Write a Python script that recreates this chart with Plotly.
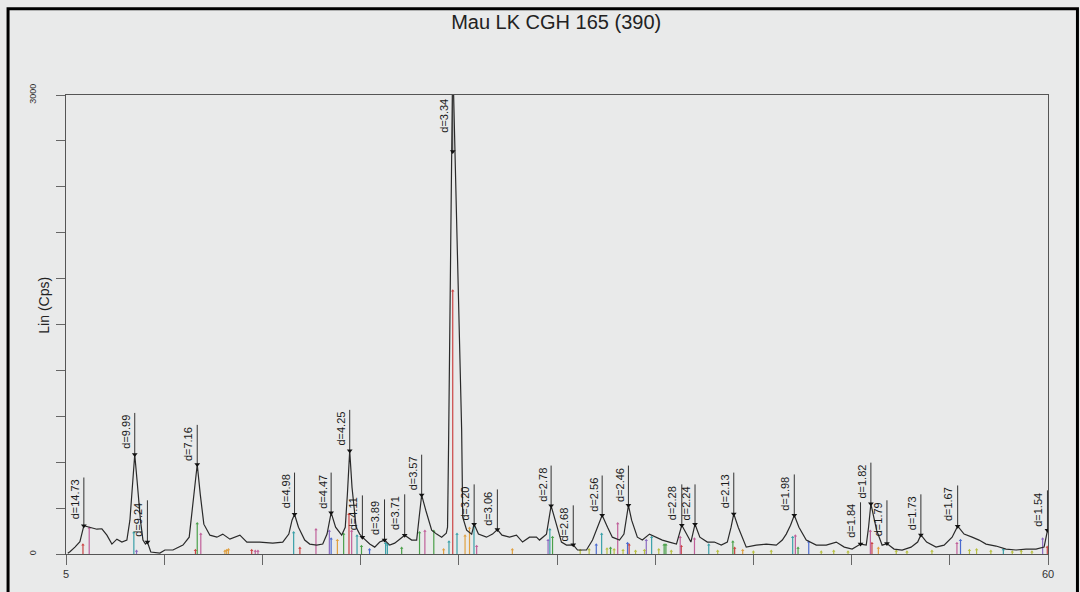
import plotly.graph_objects as go

# ---------------- data ----------------
two_theta = [5.10, 5.22, 5.50, 5.78, 6.00, 6.34, 6.73, 7.01, 7.29, 7.57, 7.85, 8.13, 8.41, 8.58, 8.72,
             8.85, 8.98, 9.17, 9.31, 9.45, 9.56, 9.75, 10.26, 10.54, 10.99, 11.55, 11.90, 12.05, 12.25,
             12.35, 12.52, 12.72, 13.06, 13.45, 13.78, 14.18, 14.74, 15.13, 15.85, 16.58, 17.14, 17.48,
             17.66, 17.80, 18.02, 18.37, 18.65, 19.04, 19.38, 19.62, 19.85, 20.10, 20.44, 20.64, 20.76,
             20.89, 21.02, 21.25, 21.45, 21.60, 22.01, 22.29, 22.57, 22.84, 23.13, 23.41, 23.69, 23.97,
             24.36, 24.64, 24.78, 24.92, 25.15, 25.48, 25.76, 26.04, 26.30, 26.37, 26.43, 26.60, 26.66,
             26.71, 27.16, 27.22, 27.44, 27.72, 27.86, 28.10, 28.55, 28.89, 29.16, 29.42, 29.84, 30.23,
             30.57, 30.96, 31.35, 31.52, 31.91, 32.17, 32.45, 32.75, 33.03, 33.41, 33.65, 34.15, 34.49,
             34.77, 35.03, 35.33, 35.60, 36.00, 36.25, 36.50, 36.68, 37.00, 37.28, 37.68, 38.07, 38.40,
             38.79, 39.19, 39.49, 39.75, 40.00, 40.23, 40.50, 40.92, 41.31, 41.70, 42.04, 42.25, 42.40,
             42.65, 43.10, 43.66, 44.22, 44.78, 45.12, 45.34, 45.58, 45.79, 46.05, 46.46, 47.02, 47.58,
             48.14, 48.59, 49.03, 49.50, 49.82, 49.95, 50.08, 50.40, 50.71, 50.98, 51.38, 51.83, 52.33,
             52.70, 52.88, 53.20, 53.73, 54.18, 54.63, 54.94, 55.30, 55.75, 56.14, 56.53, 57.09, 57.65,
             58.21, 58.77, 59.33, 59.78, 59.97, 60.00]
intensity = [5, 15, 45, 80, 185, 175, 162, 165, 123, 65, 97, 78, 91, 221, 435,
             650, 480, 221, 91, 65, 78, 13, 6, 26, 26, 58, 110, 260, 480,
             585, 390, 195, 123, 110, 130, 97, 123, 78, 78, 71, 78, 130,
             221, 260, 175, 91, 65, 58, 65, 130, 270, 175, 123, 175, 390,
             675, 435, 175, 130, 110, 65, 45, 78, 91, 58, 71, 97, 123,
             91, 91, 240, 385, 286, 156, 130, 110, 136, 175, 740, 3000, 3250,
             3000, 805, 240, 156, 130, 195, 130, 110, 130, 160, 123, 110, 123,
             78, 110, 110, 91, 130, 315, 195, 78, 58, 60, 26, 26, 91,
             175, 253, 175, 110, 91, 130, 318, 221, 110, 91, 130, 110, 91,
             78, 65, 188, 130, 78, 195, 110, 78, 78, 58, 78, 175, 262,
             175, 45, 58, 65, 58, 91, 130, 188, 253, 175, 91, 58, 58,
             78, 45, 32, 65, 58, 175, 328, 156, 58, 68, 32, 26, 45,
             78, 125, 78, 45, 58, 110, 182, 130, 110, 91, 65, 52, 32,
             26, 32, 32, 45, 156, 170]

peak_labels = ["d=14.73", "d=9.99", "d=9.24", "d=7.16", "d=4.98", "d=4.47", "d=4.25", "d=4.11",
               "d=3.89", "d=3.71", "d=3.57", "d=3.34", "d=3.20", "d=3.06", "d=2.78", "d=2.68",
               "d=2.56", "d=2.46", "d=2.28", "d=2.24", "d=2.13", "d=1.98", "d=1.84", "d=1.82",
               "d=1.79", "d=1.73", "d=1.67", "d=1.54"]
peak_two_theta = [6.00, 8.85, 9.56, 12.35, 17.80, 19.85, 20.89, 21.60, 22.84, 23.97, 24.92, 26.66,
                  27.86, 29.16, 32.17, 33.41, 35.03, 36.50, 39.49, 40.23, 42.40, 45.79, 49.50, 50.08,
                  50.98, 52.88, 54.94, 59.97]
peak_intensity = [185, 650, 78, 585, 260, 270, 675, 110, 91, 123, 385, 2630, 195, 160, 315, 60,
                  253, 318, 188, 195, 262, 253, 65, 328, 68, 125, 182, 156]
label_top = [500, 922, 351, 844, 532, 532, 942, 383, 357, 390, 649, 3000, 455, 422, 578, 318,
             513, 578, 455, 455, 532, 520, 338, 597, 351, 390, 448, 416]

# reference-pattern sticks, one list pair per phase colour
sticks = {
    "#cc4444": ([5.95, 12.25, 15.40, 18.10, 20.85, 26.66, 36.54, 39.46, 42.45, 50.14, 59.96],
                [60, 25, 25, 40, 260, 1720, 60, 50, 40, 70, 45]),
    "#c0609a": ([6.30, 12.55, 15.60, 15.75, 19.00, 21.00, 25.10, 28.00, 35.90, 39.40, 40.20, 45.85, 50.05, 54.90],
                [170, 130, 20, 20, 160, 150, 150, 50, 200, 110, 100, 120, 150, 70]),
    "#3aa0a8": ([8.80, 17.75, 21.30, 22.90, 23.00, 26.45, 26.90, 27.85, 32.10, 35.00, 37.80, 41.00, 45.70, 57.50],
                [140, 140, 120, 70, 60, 80, 130, 180, 160, 130, 110, 60, 110, 30]),
    "#4aa04a": ([12.35, 20.55, 21.55, 23.80, 24.80, 25.60, 32.25, 35.50, 38.50, 38.60, 42.35, 46.00],
                [200, 130, 50, 40, 140, 150, 110, 40, 60, 60, 80, 40]),
    "#4a6ad0": ([19.85, 22.00, 34.70, 36.45, 46.60, 55.10],
                [100, 30, 60, 70, 80, 90]),
    "#e0a040": ([13.90, 14.00, 14.10, 20.20, 26.15, 27.35, 27.60, 30.00, 42.90, 50.50],
                [20, 25, 30, 90, 30, 120, 170, 30, 25, 40]),
    "#8a6ac0": ([8.95, 19.75, 32.00, 37.50, 59.70],
                [20, 150, 90, 90, 100]),
    "#b8c040": ([33.80, 34.30, 35.30, 35.70, 36.20, 36.90, 37.40, 38.20, 38.90, 41.50, 43.50, 44.50,
                 47.30, 48.00, 48.80, 51.50, 52.10, 53.50, 55.60, 56.00, 56.80, 58.00, 58.50, 59.10],
                [25, 30, 35, 30, 25, 20, 25, 30, 20, 20, 15, 20, 15, 20, 15, 20, 15, 20, 25, 30, 20, 15, 20, 15]),
}

x_ticks = [5 + 5.5 * k for k in range(11)]
x_tick_text = ["5"] + [""] * 9 + ["60"]
y_ticks = list(range(0, 3001, 300))
y_tick_text = ["0"] + [""] * 9 + ["3000"]

# ---------------- figure ----------------
fig = go.Figure()

for colour, (sx, sy) in sticks.items():
    xs, ys = [], []
    for a, b in zip(sx, sy):
        xs += [a, a, None]
        ys += [0, b, None]
    fig.add_trace(go.Scatter(x=xs, y=ys, mode="lines", line=dict(color=colour, width=1.2),
                             hoverinfo="skip"))
    fig.add_trace(go.Scatter(x=sx, y=sy, mode="markers",
                             marker=dict(color=colour, size=3, symbol="triangle-up"), hoverinfo="skip"))

fig.add_trace(go.Scatter(x=two_theta, y=intensity, mode="lines",
                         line=dict(color="#2a2a2a", width=1.2), name="scan"))

lx, ly = [], []
for t, p, top in zip(peak_two_theta, peak_intensity, label_top):
    lx += [t, t, None]
    ly += [p, top, None]
fig.add_trace(go.Scatter(x=lx, y=ly, mode="lines", line=dict(color="#333333", width=1),
                         hoverinfo="skip"))
fig.add_trace(go.Scatter(x=peak_two_theta, y=peak_intensity, mode="markers",
                         marker=dict(color="#111111", size=5, symbol="triangle-down"),
                         hoverinfo="skip"))

for lab, t, top in zip(peak_labels, peak_two_theta, label_top):
    fig.add_annotation(x=t, y=top, text=lab, textangle=-90, showarrow=False,
                       xanchor="right", yanchor="top", xshift=-1, yshift=-2 if top >= 3000 else 0,
                       font=dict(family="Arial, Liberation Sans", size=11, color="#1a1a1a"))

fig.add_annotation(xref="paper", yref="paper", x=-0.0224, y=0.541, text="Lin (Cps)",
                   textangle=-90, showarrow=False, xanchor="center", yanchor="middle",
                   font=dict(family="Arial, Liberation Sans", size=14, color="#222222"))

# outer black frame of the page
fig.add_shape(type="rect", xref="paper", yref="paper", x0=-0.059, y0=-0.1, x1=1.03, y1=1.188,
              line=dict(color="#000000", width=3), fillcolor="rgba(0,0,0,0)", layer="above")

fig.update_layout(
    width=1080, height=592,
    margin=dict(l=66, r=32, t=95, b=35),
    paper_bgcolor="#e9eaea", plot_bgcolor="#e9eaea",
    showlegend=False,
    title=dict(text="Mau LK CGH 165 (390)", x=0.515, y=0.963, xanchor="center", yanchor="middle",
               font=dict(family="Arial, Liberation Sans", size=20, color="#222222")),
    xaxis=dict(range=[5, 60], showgrid=False, zeroline=False, showline=True, linecolor="#555555",
               linewidth=1, mirror=True, ticks="outside", ticklen=10, tickcolor="#666666",
               tickvals=x_ticks, ticktext=x_tick_text,
               tickfont=dict(family="Arial, Liberation Sans", size=11, color="#333333")),
    yaxis=dict(range=[0, 3000], showgrid=False, zeroline=False, showline=True, linecolor="#555555",
               linewidth=1, mirror=True, ticks="outside", ticklen=9, tickcolor="#666666",
               tickvals=y_ticks, ticktext=y_tick_text, tickangle=-90, ticklabelstandoff=16,
               tickfont=dict(family="Arial, Liberation Sans", size=9, color="#333333")),
)

fig.write_html("out.html")
